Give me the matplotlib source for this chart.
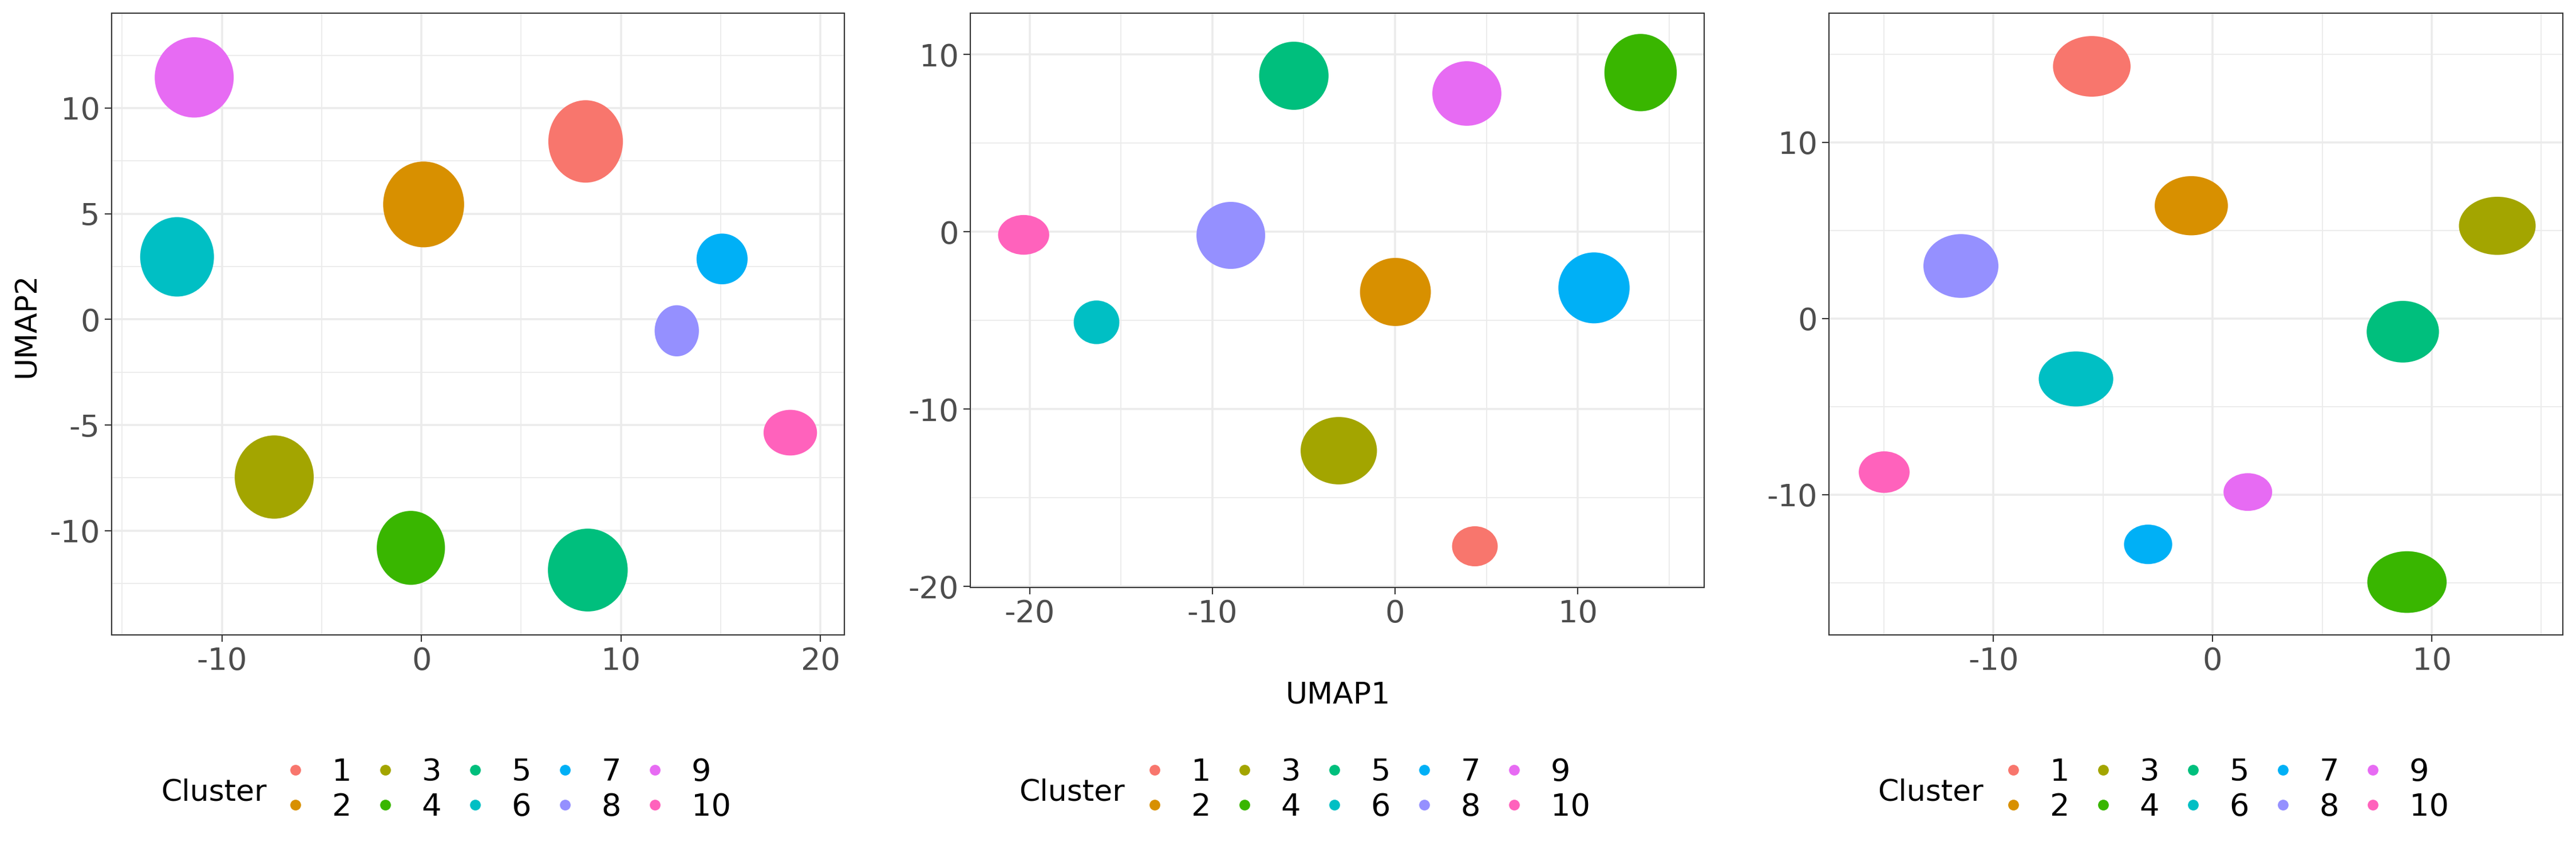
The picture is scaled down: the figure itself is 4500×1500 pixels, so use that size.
import matplotlib
matplotlib.use("Agg")
import matplotlib.pyplot as plt
from matplotlib.patches import Ellipse
from matplotlib.lines import Line2D
from matplotlib.ticker import MultipleLocator

plt.rcParams["axes.unicode_minus"] = False

clusters = ["1", "2", "3", "4", "5", "6", "7", "8", "9", "10"]
palette = ["#F8766D", "#D89000", "#A3A500", "#39B600", "#00BF7D",
           "#00BFC4", "#00B0F6", "#9590FF", "#E76BF3", "#FF62BC"]

# cluster centres and half-spreads (x, y)
p1_x = [8.23, 0.11, -7.38, -0.53, 8.34, -12.25, 15.07, 12.8, -11.39, 18.49]
p1_y = [8.42, 5.44, -7.46, -10.81, -11.86, 2.96, 2.86, -0.54, 11.45, -5.36]
p1_rx = [1.87, 2.03, 1.98, 1.71, 2.0, 1.85, 1.28, 1.11, 1.98, 1.34]
p1_ry = [1.95, 2.03, 1.97, 1.75, 1.96, 1.88, 1.2, 1.21, 1.9, 1.08]

p2_x = [4.37, 0.02, -3.08, 13.44, -5.54, -16.34, 10.89, -8.99, 3.93, -20.33]
p2_y = [-17.73, -3.39, -12.34, 8.98, 8.8, -5.1, -3.16, -0.2, 7.8, -0.17]
p2_rx = [1.25, 1.94, 2.09, 1.98, 1.9, 1.25, 1.95, 1.88, 1.89, 1.4]
p2_ry = [1.13, 1.92, 1.9, 2.18, 1.92, 1.23, 2.0, 1.89, 1.82, 1.12]

p3_x = [-5.51, -0.97, 12.99, 8.87, 8.68, -6.23, -2.94, -11.48, 1.61, -14.98]
p3_y = [14.31, 6.4, 5.26, -14.96, -0.75, -3.43, -12.82, 2.98, -9.85, -8.72]
p3_rx = [1.77, 1.67, 1.75, 1.81, 1.65, 1.7, 1.1, 1.71, 1.11, 1.16]
p3_ry = [1.72, 1.68, 1.65, 1.75, 1.75, 1.56, 1.12, 1.81, 1.07, 1.18]

W, H = 4500, 1500
fig = plt.figure(figsize=(15, 5), dpi=300)


def panel(rect, xs, ys, rxs, rys, xlim, ylim, ymajor):
    ax = fig.add_axes(rect)
    for x, y, rx, ry, c in zip(xs, ys, rxs, rys, palette):
        ax.add_patch(Ellipse((x, y), 2 * rx, 2 * ry, facecolor=c, lw=0))
    ax.set_xlim(xlim)
    ax.set_ylim(ylim)
    ax.xaxis.set_major_locator(MultipleLocator(10))
    ax.xaxis.set_minor_locator(MultipleLocator(5))
    ax.yaxis.set_major_locator(MultipleLocator(ymajor))
    ax.yaxis.set_minor_locator(MultipleLocator(ymajor / 2))
    ax.set_axisbelow(True)
    ax.grid(which="major", color="#EBEBEB", lw=0.85)
    ax.grid(which="minor", color="#EBEBEB", lw=0.45)
    ax.tick_params(which="major", length=2.9, width=0.5, color="#333333",
                   labelsize=13, labelcolor="#4D4D4D", pad=2.0)
    ax.tick_params(which="minor", length=0)
    for s in ax.spines.values():
        s.set_color("#333333")
        s.set_linewidth(0.5)
    return ax


def fx(px):
    return px / W


def fy(py):
    return 1 - py / H


panel([fx(195), fy(1110), 1280 / W, (1110 - 23) / H],
      p1_x, p1_y, p1_rx, p1_ry, (-15.53, 21.2), (-14.93, 14.49), 5)
panel([fx(1695), fy(1027), 1282 / W, (1027 - 23) / H],
      p2_x, p2_y, p2_rx, p2_ry, (-23.25, 16.92), (-20.05, 12.33), 10)
panel([fx(3195), fy(1110), 1282 / W, (1110 - 23) / H],
      p3_x, p3_y, p3_rx, p3_ry, (-17.5, 15.98), (-17.96, 17.33), 10)

fig.text(fx(47), fy(568), "UMAP2", rotation=90, ha="center", va="center",
         fontsize=12.5)
fig.text(fx(2337), fy(1230), "UMAP1", ha="center", va="baseline",
         fontsize=12.5)

handles = [Line2D([], [], ls="none", marker="o", markersize=4.5,
                  markerfacecolor=c, markeredgewidth=0) for c in palette]

for dot_px, title_px in [(516, 281), (2017, 1780), (3517, 3280)]:
    fig.text(fx(title_px), fy(1400), "Cluster", ha="left", va="baseline",
             fontsize=12.5)
    fig.legend(handles, clusters, ncol=5, loc="center left",
               bbox_to_anchor=(fx(dot_px - 21.7), fy(1380.5)),
               frameon=False, fontsize=13, borderaxespad=0, borderpad=0,
               handlelength=0.8, handletextpad=0.78, columnspacing=0.68,
               labelspacing=0.17)

fig.savefig("out.png", dpi=300)
